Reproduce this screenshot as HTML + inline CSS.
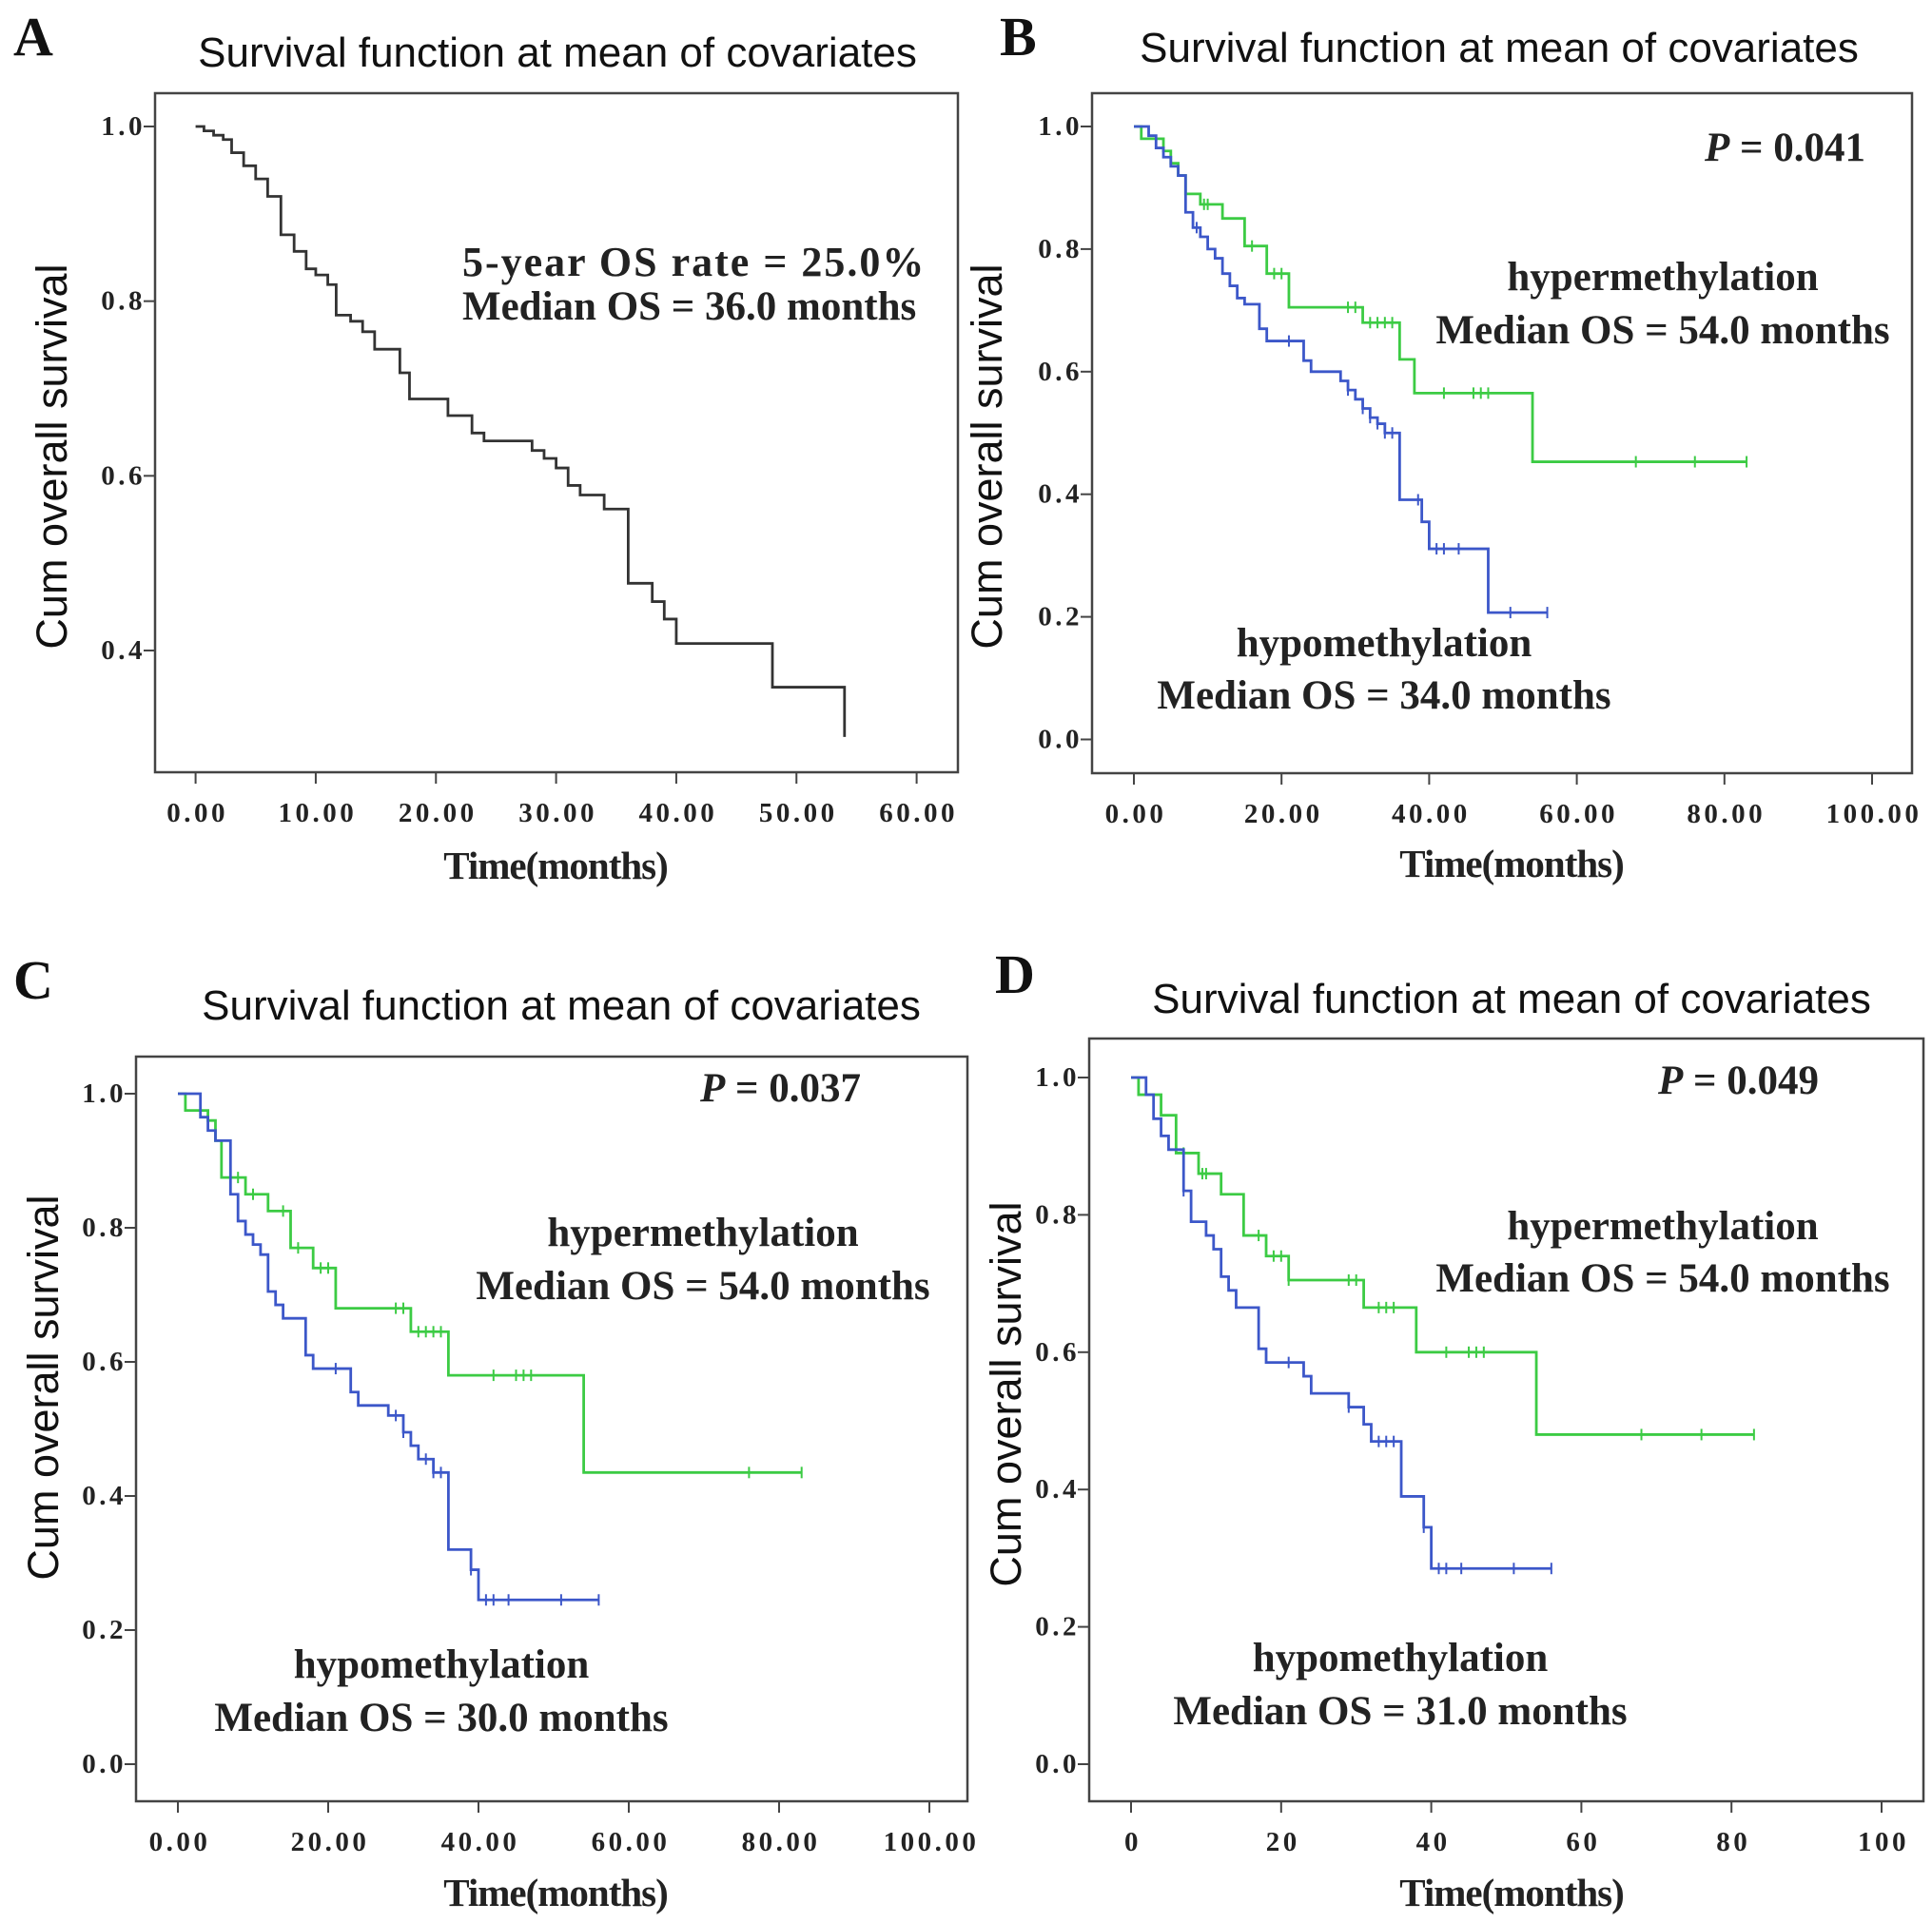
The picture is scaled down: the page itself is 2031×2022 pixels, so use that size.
<!DOCTYPE html>
<html><head><meta charset="utf-8">
<style>
html,body{margin:0;padding:0;background:#fff;}
svg{display:block;}
.ttl{font-family:"Liberation Sans",Arial,sans-serif;font-size:44px;fill:#111;}
.ylab{font-family:"Liberation Sans",Arial,sans-serif;font-size:45px;fill:#111;}
.tick{font-family:"Liberation Serif","Times New Roman",serif;font-weight:bold;font-size:29px;fill:#222;letter-spacing:3.5px;}
.xlab{font-family:"Liberation Serif","Times New Roman",serif;font-weight:bold;font-size:41px;fill:#222;letter-spacing:-1px;}
.ann{font-family:"Liberation Serif","Times New Roman",serif;font-weight:bold;font-size:43px;fill:#222;}
.let{font-family:"Liberation Serif","Times New Roman",serif;font-weight:bold;font-size:58px;fill:#111;}
</style></head>
<body>
<svg id="fig" width="2031" height="2022" viewBox="0 0 2031 2022" xmlns="http://www.w3.org/2000/svg">
<rect width="2031" height="2022" fill="#fff"/>
<text class="let" x="14" y="58">A</text>
<text class="ttl" x="586" y="70" text-anchor="middle">Survival function at mean of covariates</text>
<text class="ylab" transform="translate(70,480) rotate(-90)" text-anchor="middle">Cum overall survival</text>
<text class="xlab" x="584" y="924" text-anchor="middle">Time(months)</text>
<text class="ann" x="486" y="290" style="letter-spacing:2px;font-size:44px">5-year OS rate = 25.0%</text>
<text class="ann" x="486" y="336">Median OS = 36.0 months</text>
<text class="let" x="1051" y="58">B</text>
<text class="ttl" x="1576" y="65" text-anchor="middle">Survival function at mean of covariates</text>
<text class="ylab" transform="translate(1053,480) rotate(-90)" text-anchor="middle">Cum overall survival</text>
<text class="xlab" x="1589" y="922" text-anchor="middle">Time(months)</text>
<text class="ann" x="1961" y="169" text-anchor="end"><tspan font-style="italic">P</tspan> = 0.041</text>
<text class="ann" x="1748" y="305" text-anchor="middle">hypermethylation</text>
<text class="ann" x="1748" y="361" text-anchor="middle">Median OS = 54.0 months</text>
<text class="ann" x="1455" y="690" text-anchor="middle">hypomethylation</text>
<text class="ann" x="1455" y="745" text-anchor="middle">Median OS = 34.0 months</text>
<text class="let" x="14" y="1050">C</text>
<text class="ttl" x="590" y="1072" text-anchor="middle">Survival function at mean of covariates</text>
<text class="ylab" transform="translate(61,1459) rotate(-90)" text-anchor="middle">Cum overall survival</text>
<text class="xlab" x="584" y="2004" text-anchor="middle">Time(months)</text>
<text class="ann" x="905" y="1158" text-anchor="end"><tspan font-style="italic">P</tspan> = 0.037</text>
<text class="ann" x="739" y="1310" text-anchor="middle">hypermethylation</text>
<text class="ann" x="739" y="1366" text-anchor="middle">Median OS = 54.0 months</text>
<text class="ann" x="464" y="1764" text-anchor="middle">hypomethylation</text>
<text class="ann" x="464" y="1820" text-anchor="middle">Median OS = 30.0 months</text>
<text class="let" x="1046" y="1044">D</text>
<text class="ttl" x="1589" y="1065" text-anchor="middle">Survival function at mean of covariates</text>
<text class="ylab" transform="translate(1073,1466) rotate(-90)" text-anchor="middle">Cum overall survival</text>
<text class="xlab" x="1589" y="2004" text-anchor="middle">Time(months)</text>
<text class="ann" x="1912" y="1150" text-anchor="end"><tspan font-style="italic">P</tspan> = 0.049</text>
<text class="ann" x="1748" y="1303" text-anchor="middle">hypermethylation</text>
<text class="ann" x="1748" y="1358" text-anchor="middle">Median OS = 54.0 months</text>
<text class="ann" x="1472" y="1757" text-anchor="middle">hypomethylation</text>
<text class="ann" x="1472" y="1813" text-anchor="middle">Median OS = 31.0 months</text>
</svg>
<script>
const aTimes = [0.7,1.5,2.3,3.0,4.0,5.0,6.0,7.1,8.2,9.2,10,11,11.7,12.9,13.9,14.9,17,17.8,21,23,24,28,29,30,31,32,34,36,38,39,40,48,54];
const aSurv  = [0.995,0.99,0.985,0.97,0.955,0.94,0.92,0.876,0.857,0.837,0.83,0.819,0.784,0.777,0.765,0.745,0.718,0.688,0.669,0.649,0.64,0.629,0.62,0.609,0.589,0.578,0.562,0.477,0.456,0.436,0.408,0.358,0.301];
const aEnd = 54;
const aXTicks = ["0.00","10.00","20.00","30.00","40.00","50.00","60.00"];
const aYTicks = ["0.4","0.6","0.8","1.0"];
const bHyperTimes = [1,4,5,6,7,9,12,15,18,21,31,36,38,54];
const bHyperSurv  = [0.98,0.96,0.94,0.92,0.89,0.873,0.85,0.805,0.76,0.705,0.68,0.62,0.565,0.453];
const bHyperEnd = 83;
const bHyperCens = [9.5,10,16,19,20,29,30,32,33,34,35,42,46,47,48,68,76,83];
const bHypoTimes = [2,3,4,5,6,7,8,9,10,11,12,13,14,15,17,18,23,24,28,29,30,31,32,33,34,36,39,40,48];
const bHypoSurv  = [0.985,0.965,0.95,0.935,0.92,0.86,0.835,0.82,0.80,0.785,0.76,0.74,0.72,0.71,0.67,0.65,0.618,0.60,0.585,0.57,0.555,0.54,0.525,0.515,0.50,0.391,0.355,0.311,0.207];
const bHypoEnd = 56;
const bHypoCens = [8.5,21,29,31,32,33,34,35,38.5,41,42,44,51,56];
const bXTicks = ["0.00","20.00","40.00","60.00","80.00","100.00"];
const bYTicks = ["0.0","0.2","0.4","0.6","0.8","1.0"];
const cHyperTimes = [1,4,5,5.8,9,12,15,18,21,31,36,54];
const cHyperSurv  = [0.975,0.96,0.93,0.875,0.85,0.825,0.77,0.74,0.68,0.645,0.58,0.435];
const cHyperEnd = 83;
const cHyperCens = [8,10,14,16,19,20,29,30,32,33,34,35,42,45,46,47,76,83];
const cHypoTimes = [3,4,5,7,8,9,10,11,12,13,14,17,18,23,24,28,30,31,32,34,36,39,40];
const cHypoSurv  = [0.965,0.945,0.93,0.85,0.81,0.79,0.775,0.76,0.705,0.685,0.665,0.61,0.59,0.555,0.535,0.52,0.495,0.475,0.455,0.435,0.32,0.29,0.245];
const cHypoEnd = 56;
const cHypoCens = [21,29,30,33,34,35,39,41,42,44,51,56];
const cXTicks = ["0.00","20.00","40.00","60.00","80.00","100.00"];
const cYTicks = ["0.0","0.2","0.4","0.6","0.8","1.0"];
const dHyperTimes = [1,4,6,9,12,15,18,21,31,38,54];
const dHyperSurv  = [0.975,0.945,0.89,0.86,0.83,0.77,0.74,0.705,0.665,0.60,0.48];
const dHyperEnd = 83;
const dHyperCens = [7,9.5,10,17,19,20,21,29,30,33,34,35,42,45,46,47,68,76,83];
const dHypoTimes = [2,3,4,5,7,8,10,11,12,13,14,17,18,23,24,29,31,32,36,39,40];
const dHypoSurv  = [0.975,0.94,0.915,0.895,0.835,0.79,0.77,0.75,0.71,0.69,0.665,0.605,0.585,0.565,0.54,0.52,0.495,0.47,0.39,0.345,0.285];
const dHypoEnd = 56;
const dHypoCens = [7,21,29,33,34,35,39,41,42,44,51,56];
const dXTicks = ["0","20","40","60","80","100"];
const dYTicks = ["0.0","0.2","0.4","0.6","0.8","1.0"];

const NS = "http://www.w3.org/2000/svg";
const svg = document.getElementById("fig");
const GREEN = "#3ccb44", BLUE = "#3c57c9", DARK = "#333";

function mk(tag, attrs){ const e=document.createElementNS(NS,tag); for(const k in attrs) e.setAttribute(k,attrs[k]); return e; }

function drawPanel(p){
  const g = mk("g",{});
  
  
  svg.appendChild(g);
  const X = t => p.x0 + (t - p.t0) * (p.x1 - p.x0) / (p.t1 - p.t0);
  const Y = s => p.y0 + (s - p.s0) * (p.y1 - p.y0) / (p.s1 - p.s0);
  const fr = mk("rect",{x:p.fl,y:p.ft,width:p.fr-p.fl,height:p.fb-p.ft,fill:"none",stroke:"#444","stroke-width":2.5});
  
  
  g.appendChild(fr);
  p.xt.forEach((lab,i)=>{
    const v = p.t0 + i*p.tstep, x = X(v);
    g.appendChild(mk("line",{x1:x,x2:x,y1:p.fb,y2:p.fb+12,stroke:"#444","stroke-width":2}));
    const t = mk("text",{x:x+2,y:p.fb+52,"text-anchor":"middle",class:"tick"});
    
    
    t.textContent = lab; g.appendChild(t);
  });
  p.yt.forEach((lab)=>{
    const v = parseFloat(lab), y = Y(v);
    g.appendChild(mk("line",{x1:p.fl-12,x2:p.fl,y1:y,y2:y,stroke:"#444","stroke-width":2}));
    const t = mk("text",{x:p.fl-10,y:y+9,"text-anchor":"end",class:"tick"});
    
    
    t.textContent = lab; g.appendChild(t);
  });
  p.series.forEach(s=>{
    let d = "M"+X(0)+","+Y(1);
    let cur = 1;
    s.times.forEach((t,i)=>{ d += " L"+X(t)+","+Y(cur)+" L"+X(t)+","+Y(s.surv[i]); cur = s.surv[i]; });
    if (s.end > s.times[s.times.length-1]) d += " L"+X(s.end)+","+Y(cur);
    const path = mk("path",{d:d,fill:"none",stroke:s.color,"stroke-width":2.8,"stroke-linejoin":"miter"});
    
    
    g.appendChild(path);
    (s.cens||[]).forEach(c=>{
      let v = 1;
      s.times.forEach((t,i)=>{ if (t <= c) v = s.surv[i]; });
      const m = mk("line",{x1:X(c),x2:X(c),y1:Y(v)-6,y2:Y(v)+6,stroke:s.color,"stroke-width":2});
      
      
      g.appendChild(m);
    });
  });
}

drawPanel({name:"panel-a", fl:163,ft:98,fr:1007,fb:812, t0:0,t1:60,x0:205.6,x1:963.6,tstep:10, s0:1.0,s1:0.4,y0:133,y1:684,
  xt:aXTicks, yt:aYTicks,
  series:[{name:"panel-a-survival-curve",times:aTimes,surv:aSurv,end:aEnd,color:DARK,cens:[]}]});
drawPanel({name:"panel-b", fl:1148,ft:98,fr:2010,fb:813, t0:0,t1:100,x0:1192,x1:1968,tstep:20, s0:1.0,s1:0.0,y0:133,y1:777.5,
  xt:bXTicks, yt:bYTicks,
  series:[{name:"panel-b-hyper-curve",times:bHyperTimes,surv:bHyperSurv,end:bHyperEnd,color:GREEN,cens:bHyperCens},
          {name:"panel-b-hypo-curve",times:bHypoTimes,surv:bHypoSurv,end:bHypoEnd,color:BLUE,cens:bHypoCens}]});
drawPanel({name:"panel-c", fl:143,ft:1111,fr:1017,fb:1894, t0:0,t1:100,x0:187,x1:977,tstep:20, s0:1.0,s1:0.0,y0:1150,y1:1855,
  xt:cXTicks, yt:cYTicks,
  series:[{name:"panel-c-hyper-curve",times:cHyperTimes,surv:cHyperSurv,end:cHyperEnd,color:GREEN,cens:cHyperCens},
          {name:"panel-c-hypo-curve",times:cHypoTimes,surv:cHypoSurv,end:cHypoEnd,color:BLUE,cens:cHypoCens}]});
drawPanel({name:"panel-d", fl:1145,ft:1092,fr:2022,fb:1894, t0:0,t1:100,x0:1189,x1:1978,tstep:20, s0:1.0,s1:0.0,y0:1133,y1:1855,
  xt:dXTicks, yt:dYTicks,
  series:[{name:"panel-d-hyper-curve",times:dHyperTimes,surv:dHyperSurv,end:dHyperEnd,color:GREEN,cens:dHyperCens},
          {name:"panel-d-hypo-curve",times:dHypoTimes,surv:dHypoSurv,end:dHypoEnd,color:BLUE,cens:dHypoCens}]});
</script>
</body></html>
